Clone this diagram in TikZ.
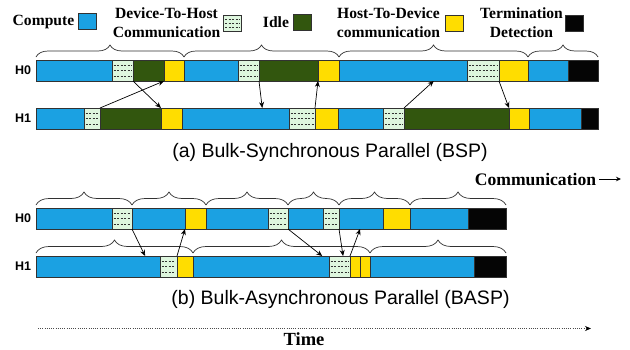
\documentclass[tikz,border=0pt]{standalone}
\usepackage{fontspec}
\setmainfont{Liberation Serif}
\newfontfamily\capfont{Liberation Sans}
\usetikzlibrary{decorations.pathreplacing,calc,arrows.meta}
\definecolor{cblue}{RGB}{27,161,226}
\definecolor{cyel}{RGB}{255,221,0}
\definecolor{cgreen}{RGB}{50,86,14}
\definecolor{cmint}{RGB}{222,246,222}
\definecolor{cblk}{RGB}{5,5,5}
\definecolor{cline}{RGB}{50,50,50}
\tikzset{
 segbase/.style={draw=cline, line width=0.8pt, inner sep=0pt, outer sep=0pt},
 comp/.style={segbase, fill=cblue},
 idle/.style={segbase, fill=cgreen},
 htod/.style={segbase, fill=cyel},
 term/.style={segbase, fill=cblk},
 dtoh/.style={segbase, fill=cmint, path picture={
   \foreach \f in {0.25,0.5,0.75}{
     \draw[cline, line width=0.5pt, dash pattern=on 2pt off 1.5pt]
       ($(path picture bounding box.north west)!\f!(path picture bounding box.south west)+(1.5pt,0)$) --
       ($(path picture bounding box.north east)!\f!(path picture bounding box.south east)+(-1.5pt,0)$);
   }}},
 msg/.style={-{Stealth[length=6pt,width=5pt]}, line width=0.7pt, black},
 brA/.style={decorate, decoration={brace, amplitude=12pt, raise=3pt}, draw=cline, line width=0.7pt},
 brB/.style={decorate, decoration={brace, amplitude=13pt, raise=3pt}, draw=cline, line width=0.7pt},
 legtxt/.style={font=\fontsize{15.6}{19}\selectfont\bfseries, align=center, inner sep=0pt},
 legbox/.style={segbase, minimum width=18pt, minimum height=16pt},
 hlab/.style={font=\capfont\bfseries\fontsize{12.5}{14}\selectfont, inner sep=0pt},
 captxt/.style={font=\capfont\fontsize{19.5}{22}\selectfont, inner sep=0pt},
}
\newcommand{\mkseg}[6]{\node[#2, minimum width={#4-#3}, minimum height={#6-#5}] (#1) at ({(#3+#4)/2},{(#5+#6)/2}) {};}
\begin{document}
\begin{tikzpicture}[x=1pt,y=-1pt]
\useasboundingbox[fill=white] (0,0) rectangle (630,349);
% legend
\node[legtxt] (lcomp) at (43.5,22) {Compute};
\node[legbox, comp] (bcomp) at (87,21) {};
\node[legtxt] (ldth) at (166.5,22.5) {Device-To-Host\\Communication};
\node[legbox, dtoh] (bdth) at (232.5,23) {};
\node[legtxt] (lidle) at (276,22) {Idle};
\node[legbox, idle] (bidle) at (302,22) {};
\node[legtxt] (lhtd) at (388.5,22.5) {Host-To-Device\\communication};
\node[legbox, htod] (bhtd) at (454,23) {};
\node[legtxt] (lterm) at (521.5,22.5) {Termination\\Detection};
\node[legbox, term] (bterm) at (574,23) {};
% row labels
\node[hlab] (lh0a) at (23,70.5) {H0};
\node[hlab] (lh1a) at (23,118.5) {H1};
\node[hlab] (lh0b) at (23,218.5) {H0};
\node[hlab] (lh1b) at (23,266.5) {H1};
% BSP H0
\mkseg{h0b1}{comp}{36}{112}{60}{81}
\mkseg{h0d1}{dtoh}{112}{133}{60}{81}
\mkseg{h0i1}{idle}{133}{164}{60}{81}
\mkseg{h0y1}{htod}{164}{184}{60}{81}
\mkseg{h0b2}{comp}{184}{238}{60}{81}
\mkseg{h0d2}{dtoh}{238}{259}{60}{81}
\mkseg{h0i2}{idle}{259}{318}{60}{81}
\mkseg{h0y2}{htod}{318}{339}{60}{81}
\mkseg{h0b3}{comp}{339}{467}{60}{81}
\mkseg{h0d3}{dtoh}{467}{499}{60}{81}
\mkseg{h0y3}{htod}{499}{528}{60}{81}
\mkseg{h0b4}{comp}{528}{568}{60}{81}
\mkseg{h0k}{term}{568}{598}{60}{81}
% BSP H1
\mkseg{h1b1}{comp}{36}{84}{108}{129}
\mkseg{h1d1}{dtoh}{84}{100}{108}{129}
\mkseg{h1i1}{idle}{100}{161}{108}{129}
\mkseg{h1y1}{htod}{161}{182}{108}{129}
\mkseg{h1b2}{comp}{182}{289}{108}{129}
\mkseg{h1d2}{dtoh}{289}{315}{108}{129}
\mkseg{h1y2}{htod}{315}{338}{108}{129}
\mkseg{h1b3}{comp}{338}{383}{108}{129}
\mkseg{h1d3}{dtoh}{383}{404}{108}{129}
\mkseg{h1i2}{idle}{404}{509}{108}{129}
\mkseg{h1y3}{htod}{509}{529}{108}{129}
\mkseg{h1b4}{comp}{529}{581}{108}{129}
\mkseg{h1k}{term}{581}{598}{108}{129}
% BASP H0
\mkseg{g0b1}{comp}{36}{112}{208}{229}
\mkseg{g0d1}{dtoh}{112}{132}{208}{229}
\mkseg{g0b2}{comp}{132}{185}{208}{229}
\mkseg{g0y1}{htod}{185}{206}{208}{229}
\mkseg{g0b3}{comp}{206}{268}{208}{229}
\mkseg{g0d2}{dtoh}{268}{288}{208}{229}
\mkseg{g0b4}{comp}{288}{323}{208}{229}
\mkseg{g0d3}{dtoh}{323}{339}{208}{229}
\mkseg{g0b5}{comp}{339}{383}{208}{229}
\mkseg{g0y2}{htod}{383}{410}{208}{229}
\mkseg{g0b6}{comp}{410}{468}{208}{229}
\mkseg{g0k}{term}{468}{506}{208}{229}
% BASP H1
\mkseg{g1b1}{comp}{36}{160}{256}{277}
\mkseg{g1d1}{dtoh}{160}{177}{256}{277}
\mkseg{g1y1}{htod}{177}{193}{256}{277}
\mkseg{g1b2}{comp}{193}{329}{256}{277}
\mkseg{g1d2}{dtoh}{329}{350}{256}{277}
\mkseg{g1y2}{htod}{350}{360}{256}{277}
\mkseg{g1y3}{htod}{360}{370}{256}{277}
\mkseg{g1b3}{comp}{370}{474}{256}{277}
\mkseg{g1k}{term}{474}{506}{256}{277}
% braces
\draw[brA] (h0b1.north west) -- (h0y1.north east);
\draw[brA] (h0b2.north west) -- (h0y2.north east);
\draw[brA] (h0b3.north west) -- (h0y3.north east);
\draw[brA] (h0b4.north west) -- (h0k.north east);
\draw[brB] (g0b1.north west) -- (g0d1.north east);
\draw[brB] (g0b2.north west) -- (g0y1.north east);
\draw[brB] (g0b3.north west) -- (g0d2.north east);
\draw[brB] (g0b4.north west) -- (g0d3.north east);
\draw[brB] (g0b5.north west) -- (g0y2.north east);
\draw[brB] (g0b6.north west) -- (g0k.north east);
\draw[brB] (g1b1.north west) -- (g1y1.north east);
\draw[brB] (g1b2.north west) -- (g1y3.north east);
\draw[brB] (g1b3.north west) -- (g1k.north east);
% BSP messages
\draw[msg] (h0d1.south east) -- (h1y1.north west);
\draw[msg] (h1d1.north east) -- (h0y1.south west);
\draw[msg] (h0d2.south east) -- ($(h1b2.north west)!0.75!(h1b2.north east)$);
\draw[msg] (h1d2.north east) -- (h0y2.south west);
\draw[msg] (h1d3.north east) -- ($(h0b3.south west)!0.74!(h0b3.south east)$);
\draw[msg] (h0d3.south east) -- (h1y3.north west);
% BASP messages
\draw[msg] (g0d1.south east) -- ($(g1b1.north west)!0.88!(g1b1.north east)$);
\draw[msg] (g1d1.north east) -- (g0y1.south west);
\draw[msg] (g0d2.south east) -- ($(g1b2.north west)!0.95!(g1b2.north east)$);
\draw[msg] (g0d3.south east) -- ($(g1d2.north west)!0.67!(g1d2.north east)$);
\draw[msg] (g1d2.north east) -- ($(g0b5.south west)!0.48!(g0b5.south east)$);
% captions
\node[captxt] (capa) at (330,152.5) {(a) Bulk-Synchronous Parallel (BSP)};
\node[captxt] (capb) at (340.5,299.5) {(b) Bulk-Asynchronous Parallel (BASP)};
% communication label
\node[font=\fontsize{17.6}{20}\selectfont\bfseries, inner sep=0pt] (commlab) at (535.5,179) {Communication};
\coordinate (commend) at (621,179);
\draw[-{Stealth[length=5pt,width=4.5pt]}, line width=1pt] ([xshift=3pt]commlab.east) -- (commend);
% time axis
\coordinate (tstart) at (38,328.5);
\coordinate (tend) at (591,328.5);
\draw[dash pattern=on 1pt off 1.2pt, gray!60!black, line width=0.8pt, -{Stealth[length=6pt,width=5pt,color=black]}] (tstart) -- (tend);
\node[font=\fontsize{18.5}{21}\selectfont\bfseries, inner sep=0pt] (timelab) at (304,339.5) {Time};
\end{tikzpicture}
\end{document}
